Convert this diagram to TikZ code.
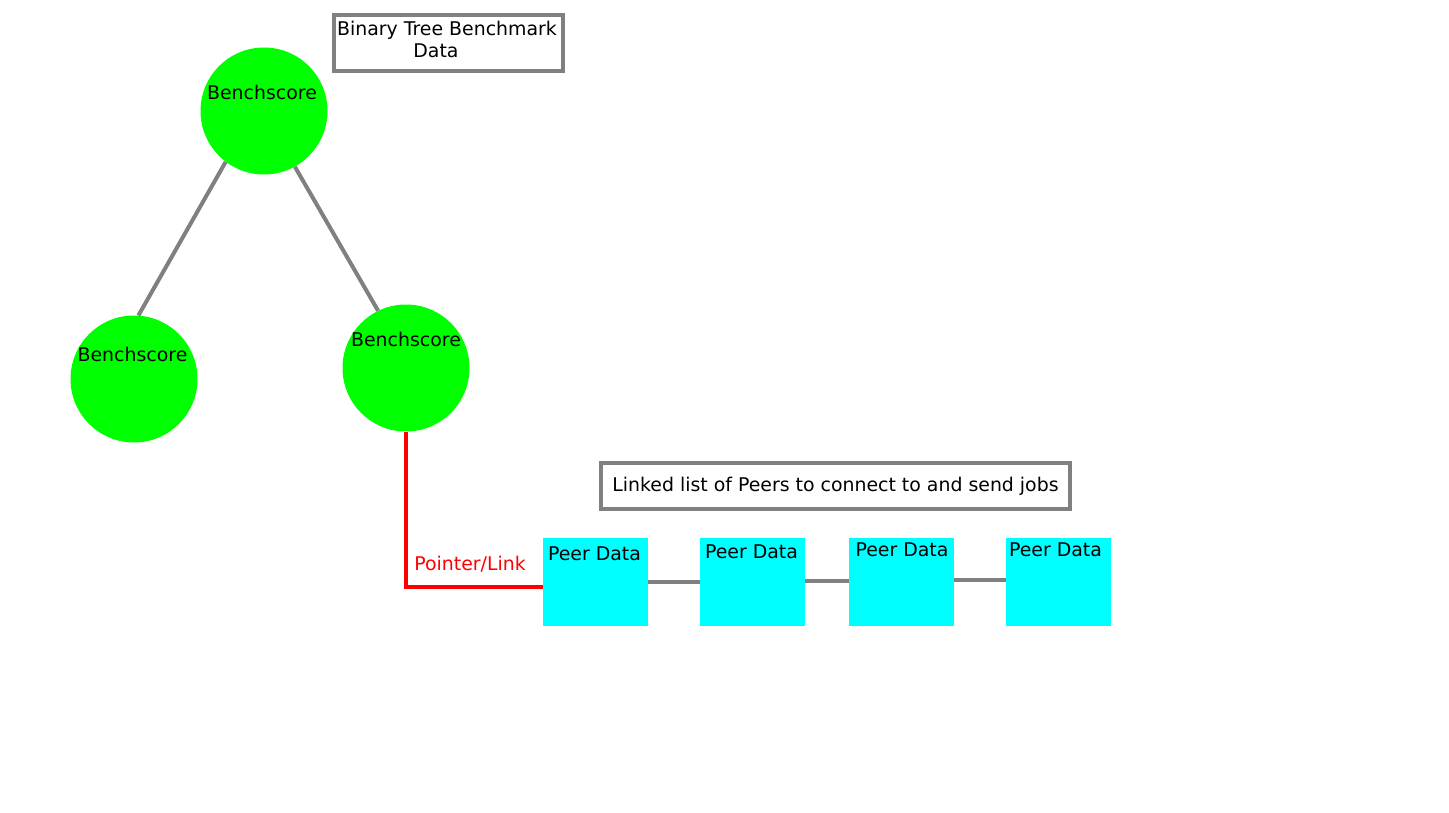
\documentclass[tikz,border=0pt]{standalone}
\usepackage{fontspec}
\setmainfont{DejaVu Sans}
\definecolor{lgreen}{HTML}{00FF00}
\definecolor{lcyan}{HTML}{00FFFF}
\definecolor{lred}{HTML}{FF0000}
\definecolor{lgray}{HTML}{808080}
\begin{document}
\begin{tikzpicture}[x=1pt,y=-1pt,
  every node/.style={font=\fontsize{18.9}{22}\selectfont},
  bench/.style={circle,fill=lgreen,minimum size=127pt,inner sep=0pt},
  peer/.style={rectangle,fill=lcyan,minimum width=105pt,minimum height=88pt,inner sep=0pt},
  titlebox/.style={rectangle,draw=lgray,line width=4.5pt,fill=white,inner sep=0pt,align=center},
  link/.style={draw=lgray,line width=4pt},
  ptr/.style={draw=lred,line width=4pt},
  txt/.style={inner sep=0pt,text=black,align=center}
]
\useasboundingbox (0,0) rectangle (1449,813);
% title boxes
\node[titlebox,minimum width=229pt,minimum height=56pt] (t1) at (448.5,43) {};
\node[txt] (t1l) at (447,39) {Binary Tree Benchmark\\Data\hspace*{22pt}};
\node[titlebox,minimum width=469pt,minimum height=46pt] (t2) at (835.5,486) {Linked list of Peers to connect to and send jobs};
% circles
\node[bench] (root) at (264,111) {};
\node[bench] (left) at (134,379) {};
\node[bench] (right) at (406,368) {};
\node[txt] (rootl) at (262,92) {Benchscore};
\node[txt] (leftl) at (132.5,354) {Benchscore};
\node[txt] (rightl) at (406,339) {Benchscore};
% tree edges
\draw[link] (root.233) -- (left.86);
\draw[link] (root.299) -- (right.116);
% peers
\node[peer] (p1) at (595.5,582) {};
\node[peer] (p2) at (752.5,582) {};
\node[peer] (p3) at (901.5,582) {};
\node[peer] (p4) at (1058.5,582) {};
\node[txt] (p1l) at (594.5,554) {Peer Data};
\node[txt] (p2l) at (751.5,552) {Peer Data};
\node[txt] (p3l) at (902,550) {Peer Data};
\node[txt] (p4l) at (1055.5,550) {Peer Data};
\draw[link] (p1.east) -- (p2.west);
\draw[link] ([yshift=1pt]p2.east) -- ([yshift=1pt]p3.west);
\draw[link] ([yshift=2pt]p3.east) -- ([yshift=2pt]p4.west);
% pointer
\coordinate (pc) at (405,587);
\draw[ptr] (right.south) -- (right.south |- pc) -- (p1.west |- pc);
\node[txt,text=lred] (pl) at (470,564) {Pointer/Link};
\end{tikzpicture}
\end{document}
